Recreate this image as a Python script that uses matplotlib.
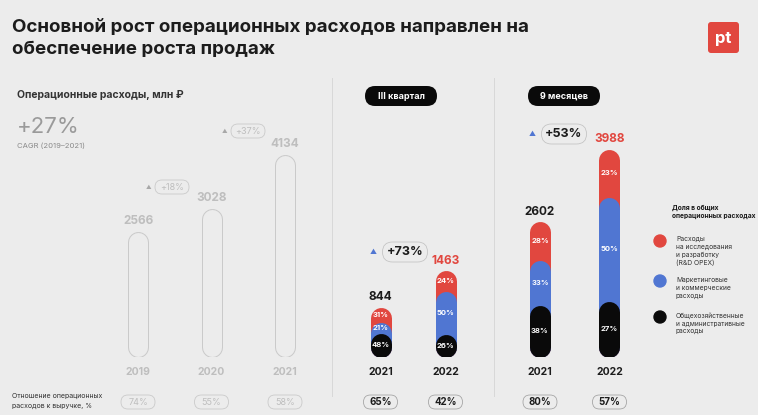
import matplotlib
matplotlib.use('Agg')
import matplotlib.pyplot as plt
from matplotlib.patches import FancyBboxPatch, Circle

# ---- data ----
years_hist = ['2019', '2020', '2021']
opex_hist = [2566, 3028, 4134]
growth_hist = ['+18%', '+37%']
ratio_hist = ['74%', '55%', '58%']

years_cmp = ['2021', '2022']
q3_total = [844, 1463]
q3_rnd = [31, 24]
q3_mkt = [21, 50]
q3_adm = [48, 26]
q3_growth = '+73%'
q3_ratio = ['65%', '42%']

m9_total = [2602, 3988]
m9_rnd = [28, 23]
m9_mkt = [33, 50]
m9_adm = [38, 27]
m9_growth = '+53%'
m9_ratio = ['80%', '57%']

legend_title = 'Доля в общих\nоперационных расходах'
legend_items = ['Расходы\nна исследования\nи разработку\n(R&D OPEX)',
                'Маркетинговые\nи коммерческие\nрасходы',
                'Общехозяйственные\nи административные\nрасходы']

# ---- style ----
W, H = 758, 415
BG = '#ececec'
RED = '#e1473f'
BLUE = '#5076d2'
BLACK = '#0a0a0a'
GREY_LINE = '#cacaca'
GREY_TXT = '#bebebe'
DARK = '#1c1c1c'
plt.rcParams['font.family'] = ['Inter', 'DejaVu Sans']

BAR_W = 21      # px
BASE_Y = 357    # px from top
AX_H = 250      # px
PT = 0.72       # points per pixel at dpi 100

fig = plt.figure(figsize=(W / 100, H / 100), dpi=100, facecolor=BG)
ov = fig.add_axes([0, 0, 1, 1])
ov.set_xlim(0, W)
ov.set_ylim(H, 0)
ov.axis('off')


def pill(cx, cy, w, h, fc='none', ec=GREY_LINE, lw=0.6, z=2):
    ov.add_patch(FancyBboxPatch((cx - w / 2, cy - h / 2), w, h,
                                boxstyle='round,pad=0,rounding_size=%f' % (h / 2),
                                fc=fc, ec=ec, lw=lw, zorder=z))


def bar_axes(cx0, step, n, ppu):
    left = cx0 - step / 2
    ax = fig.add_axes([left / W, (H - BASE_Y) / H, step * n / W, AX_H / H])
    ax.set_xlim(-0.5, n - 0.5)
    ax.set_ylim(0, AX_H / ppu)
    ax.axis('off')
    return ax


def rounded(ax, x, top, color, width_px, ppu, z):
    r = (BAR_W / 2) / ppu
    end = max(top - r, r + 1)
    ax.plot([x, x], [r, end], color=color, lw=width_px * PT,
            solid_capstyle='round', zorder=z)


def x_px(ax, i):
    return ax.transData.transform((i, 0))[0]


# ---- header ----
ov.text(12, 32, 'Основной рост операционных расходов направлен на',
        fontsize=13.5, fontweight='bold', color=DARK, va='baseline')
ov.text(12, 54, 'обеспечение роста продаж',
        fontsize=13.5, fontweight='bold', color=DARK, va='baseline')
ov.add_patch(FancyBboxPatch((708, 22), 31, 31, boxstyle='round,pad=0,rounding_size=3',
                            fc=RED, ec='none'))
ov.text(723.5, 38, 'pt', fontsize=12, fontweight='bold', color='white',
        ha='center', va='center')

# separators
for xs in (332, 494):
    ov.plot([xs, xs], [78, 396], color='#d8d8d8', lw=0.7)

# ---- left panel: 2019-2021 ----
ov.text(17, 98, 'Операционные расходы, млн ₽', fontsize=7.5, fontweight='bold',
        color='#333333', va='baseline')
ov.text(17, 133, '+27%', fontsize=16, color='#9a9a9a', va='baseline')
ov.text(17, 148, 'CAGR (2019–2021)', fontsize=5.5, color='#8a8a8a', va='baseline')

ppu_h = 0.049
axh = bar_axes(138, 73.5, 3, ppu_h)
for i, v in enumerate(opex_hist):
    rounded(axh, i, v, GREY_LINE, BAR_W, ppu_h, 2)
    rounded(axh, i, v, BG, BAR_W - 2, ppu_h, 3)
    axh.annotate(str(v), (i, v), xytext=(0, 3), textcoords='offset points',
                 ha='center', va='bottom', fontsize=8.5, fontweight='bold', color=GREY_TXT)
    axh.annotate(years_hist[i], (i, 0), xytext=(0, -15 * PT), textcoords='offset points',
                 ha='center', va='center', fontsize=7.5, fontweight='bold', color=GREY_TXT)

for (tx, ty), g in zip([(149, 187), (225, 131)], growth_hist):
    ov.text(tx, ty, '▲', fontsize=4, color='#a8a8a8', ha='center', va='center')
    pill(tx + 23, ty, 34, 14, ec=GREY_LINE)
    ov.text(tx + 23, ty, g, fontsize=6.5, color=GREY_TXT, ha='center', va='center')

ov.text(12, 396, 'Отношение операционных', fontsize=5, color='#333333', va='center')
ov.text(12, 406, 'расходов к выручке, %', fontsize=5, color='#333333', va='center')
for i, t in enumerate(ratio_hist):
    cx = x_px(axh, i)
    pill(cx, 402, 34, 14, ec=GREY_LINE)
    ov.text(cx, 402, t, fontsize=6.5, color=GREY_TXT, ha='center', va='center')


# ---- stacked panels ----
def stacked_panel(cx0, step, ppu, totals, rnd, mkt, adm, growth, ratios, label, lab_x,
                  grow_xy):
    ax = bar_axes(cx0, step, 2, ppu)
    for i, tot in enumerate(totals):
        adm_top = tot * adm[i] / 100
        mkt_top = tot * (adm[i] + mkt[i]) / 100
        rounded(ax, i, tot, RED, BAR_W, ppu, 2)
        rounded(ax, i, mkt_top, BLUE, BAR_W, ppu, 3)
        rounded(ax, i, adm_top, BLACK, BAR_W, ppu, 4)
        for lo, hi, p in [(0, adm_top, adm[i]), (adm_top, mkt_top, mkt[i]),
                          (mkt_top, tot, rnd[i])]:
            ax.text(i, (lo + hi) / 2, '%d%%' % p, fontsize=5.5, fontweight='bold',
                    color='white', ha='center', va='center', zorder=6)
        ax.annotate(str(tot), (i, tot), xytext=(0, 3), textcoords='offset points',
                    ha='center', va='bottom', fontsize=8.5, fontweight='bold',
                    color=DARK if i == 0 else RED)
        ax.annotate(years_cmp[i], (i, 0), xytext=(0, -15 * PT), textcoords='offset points',
                    ha='center', va='center', fontsize=7.5, fontweight='bold', color=DARK)
        cx = x_px(ax, i)
        pill(cx, 402, 34, 14, ec='#a0a0a0', lw=0.55)
        ov.text(cx, 402, ratios[i], fontsize=7, fontweight='bold', color=DARK,
                ha='center', va='center')
    pill(lab_x, 96, 72, 20, fc=BLACK, ec='none')
    ov.text(lab_x, 96, label, fontsize=6.5, fontweight='bold', color='white',
            ha='center', va='center')
    gx, gy = grow_xy
    ov.text(gx, gy, '▲', fontsize=5, color=BLUE, ha='center', va='center')
    pill(gx + 32, gy, 45, 20, ec='#c2c2c2', lw=0.55)
    ov.text(gx + 32, gy, growth, fontsize=9, fontweight='bold', color=DARK,
            ha='center', va='center')


stacked_panel(380.5, 65, 0.059, q3_total, q3_rnd, q3_mkt, q3_adm, q3_growth, q3_ratio,
              'III квартал', 401, (373, 252))
stacked_panel(540, 69.5, 0.052, m9_total, m9_rnd, m9_mkt, m9_adm, m9_growth, m9_ratio,
              '9 месяцев', 564, (532, 134))

# ---- legend ----
ov.text(672, 205, legend_title, fontsize=4.8, fontweight='bold', color=DARK,
        va='top', linespacing=1.3)
for (cy, ty), col, lab in zip([(241, 236), (281, 277), (317, 312)],
                              [RED, BLUE, BLACK], legend_items):
    ov.add_patch(Circle((660, cy), 6, color=col))
    ov.text(676, ty, lab, fontsize=4.8, color='#333333', va='top', linespacing=1.35)

fig.savefig('out.png', dpi=100, facecolor=BG)
